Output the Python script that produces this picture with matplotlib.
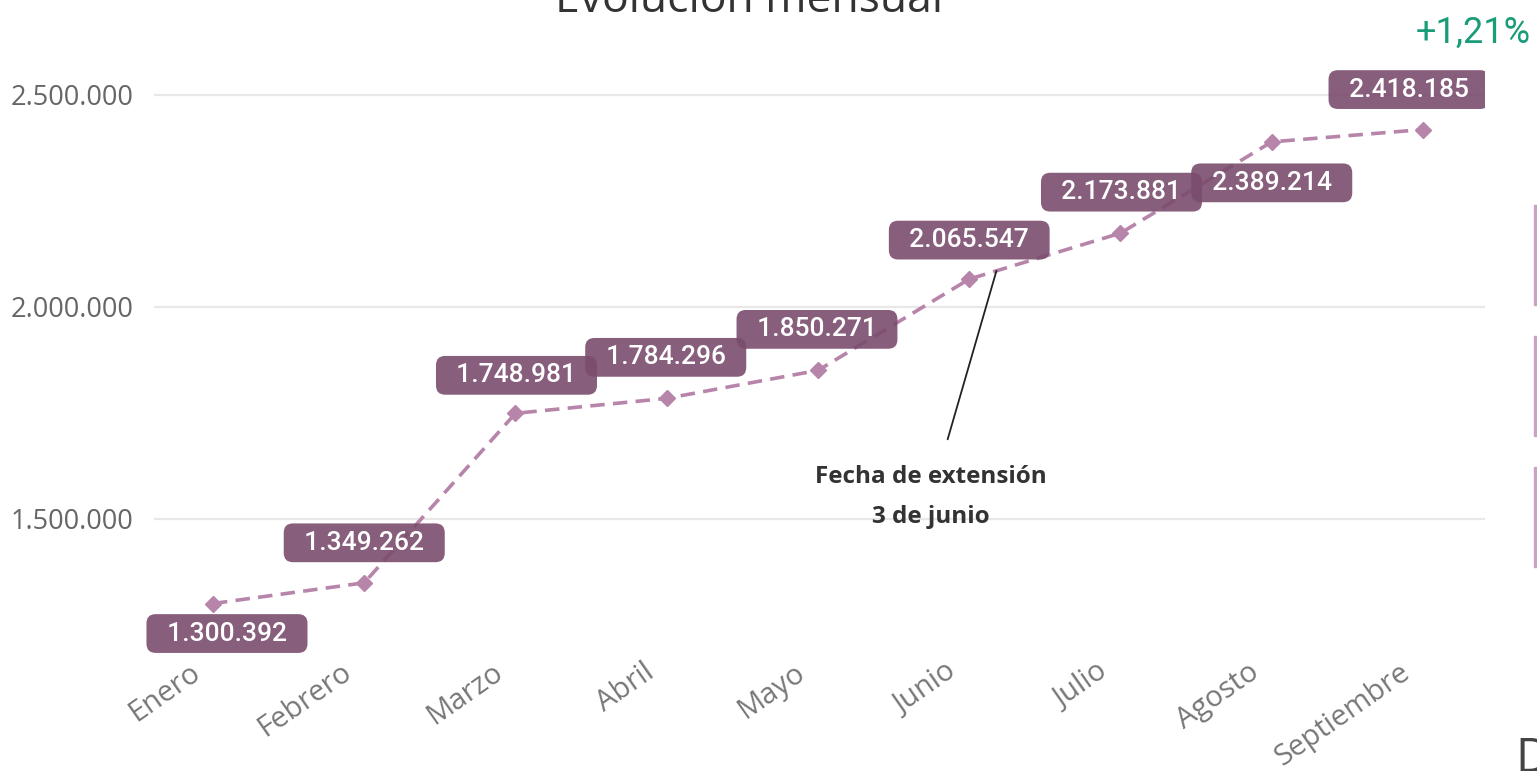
import matplotlib.pyplot as plt
import matplotlib.transforms as mtransforms
from matplotlib.patches import Rectangle

# datos mensuales
meses = ["Enero", "Febrero", "Marzo", "Abril", "Mayo", "Junio", "Julio", "Agosto", "Septiembre"]
valores = [1300392, 1349262, 1748981, 1784296, 1850271, 2065547, 2173881, 2389214, 2418185]
yticks = [1500000, 2000000, 2500000]
variacion = "+1,21%"
nota = "Fecha de extensión\n3 de junio"

def fmt(v):
    return f"{v:,.0f}".replace(",", ".")

col_linea = "#b785aa"
col_caja = "#7a4c6d"   # con alpha 0.9 queda como #875e7c sobre blanco

fig = plt.figure(figsize=(15.37, 7.71), dpi=100)
ax = fig.add_axes([154/1537, 1-655/771, (1485-154)/1537, (655-44)/771])

x = list(range(len(meses)))
ax.plot(x, valores, color=col_linea, lw=2.6, dashes=(4, 2.3), marker="D", markersize=8.5,
        zorder=3)

# etiquetas de valor (desplazamiento en pixeles)
desp = [(14, -30), (0, 40), (1, 38), (-1, 41), (-1, 41), (0, 39), (1, 41), (0, -41), (-14, 40)]
for i, v in enumerate(valores):
    ax.annotate("  " + fmt(v) + "  ", (i, v), xytext=desp[i], textcoords="offset pixels",
                ha="center", va="center", color="white", fontsize=19, family="Roboto",
                fontweight="medium",
                bbox=dict(boxstyle="round,pad=0.28,rounding_size=0.35", fc=col_caja,
                          ec="none", alpha=0.9),
                zorder=4 + i * 0.01, annotation_clip=False, clip_on=(i == len(valores) - 1))

# nota sobre junio
t = 0.18
xa = 5 + t
ya = valores[5] + t * (valores[6] - valores[5])
ax.annotate(nota, xy=(xa, ya), xytext=(4.747, 1551900), ha="center", va="center",
            fontsize=17.5, fontweight="bold", family="Open Sans", color="#333333",
            linespacing=1.9,
            arrowprops=dict(arrowstyle="-", color="#222222", lw=1.3, shrinkA=17, shrinkB=0),
            zorder=6)

ax.set_xlim(-0.39, 8.41)
ax.set_ylim(1179000, 2620000)
ax.set_yticks(yticks)
ax.set_yticklabels([fmt(v) for v in yticks], family="Open Sans", fontsize=19.5, color="#666666")

# etiquetas del eje x, giradas y algo desplazadas a la izquierda
ax.set_xticks(x)
ax.set_xticklabels([])
off = mtransforms.ScaledTranslation(-24/100, -3/100, fig.dpi_scale_trans)
trans = ax.get_xaxis_transform() + off
for i, m in enumerate(meses):
    ax.text(i, 0, m, transform=trans, rotation=35, ha="right", va="top",
            rotation_mode="anchor", family="Open Sans", fontsize=21, color="#777777",
            clip_on=False)

ax.tick_params(axis="both", length=0)
ax.tick_params(axis="y", pad=15)
ax.grid(axis="y", color="#e8e8e8", lw=1.6)
ax.set_axisbelow(True)
for s in ax.spines.values():
    s.set_visible(False)

# textos de la cabecera
fig.text(749/1537, 1-12/771, "Evolución mensual", ha="center", va="baseline",
         fontsize=32, family="Open Sans", color="#333333")
fig.text(1531/1537, 1-43/771, variacion, ha="right", va="baseline",
         fontsize=26, family="Roboto", color="#1a9c79")

# restos del panel de la derecha
for y0, y1 in [(205, 305), (336, 436), (467, 567)]:
    fig.patches.append(Rectangle((1534/1537, 1-y1/771), 3/1537, (y1-y0)/771,
                                 transform=fig.transFigure, color="#c9a3c3"))
fig.text(1515/1537, 1-735/771, "D", ha="left", va="top", fontsize=34,
         family="Open Sans", color="#444444")

plt.savefig("out.png", dpi=100)
